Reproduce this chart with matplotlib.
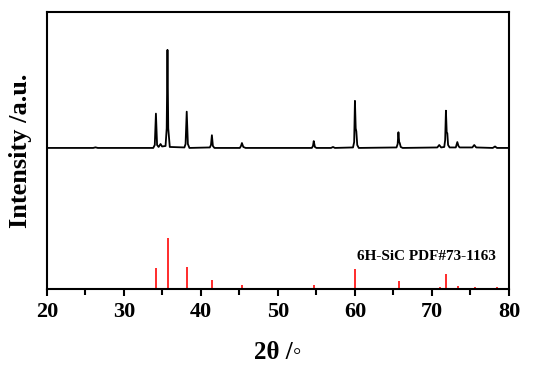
import matplotlib
matplotlib.use('Agg')
import matplotlib.pyplot as plt

plt.rcParams['font.family'] = ['Liberation Serif', 'DejaVu Serif']
plt.rcParams['font.weight'] = 'bold'

# measured XRD pattern (2theta in degrees, relative intensity)
two_theta = [20.0, 26.0, 26.3, 26.6, 33.8, 34.0, 34.15, 34.3, 34.5, 34.75, 34.95,
             35.4, 35.55, 35.65, 35.75, 35.95, 37.85, 38.0, 38.15, 38.3, 38.5,
             41.15, 41.3, 41.42, 41.55, 41.75, 45.05, 45.2, 45.32, 45.5, 45.8,
             54.4, 54.55, 54.65, 54.8, 55.0, 56.9, 57.15, 57.4,
             59.75, 59.9, 60.0, 60.1, 60.18, 60.3, 60.5,
             65.4, 65.55, 65.65, 65.75, 65.82, 65.95, 66.2,
             70.7, 70.95, 71.2, 71.6, 71.72, 71.82, 71.92, 72.0, 72.1, 72.3,
             73.1, 73.3, 73.45, 73.6, 75.25, 75.5, 75.75, 77.9, 78.2, 78.45, 79.8]
intensity = [0, 0, 0.6, 0, 0, 3, 35, 3, 1, 4, 1.5,
             2, 20, 100, 20, 1, 0.5, 4, 37, 4, 0,
             0.5, 3, 13, 2, 0, 0, 2, 5, 1, 0,
             0, 2, 7, 1, 0, 0, 1, 0,
             0.5, 6, 48, 20, 17, 3, 0,
             0.5, 4, 16, 6, 5, 1, 0,
             0.5, 3, 0.5, 1, 8, 38, 16, 15, 3, 0.5,
             0.5, 6, 2, 0.5, 0.5, 3, 0.5, 0, 1.5, 0, 0]

# 6H-SiC reference lines, PDF#73-1163
ref_pos = [23.6, 34.1, 35.7, 38.15, 41.4, 45.3, 48.2, 54.65, 60.05,
           65.7, 71.1, 71.85, 73.45, 75.6, 78.4]
ref_int = [1, 41, 100, 44, 18, 8, 2, 8, 39, 16, 4.5, 29, 6.5, 4.5, 3]

fig = plt.figure(figsize=(5.34, 3.71), dpi=100)
ax = fig.add_axes([0.088, 0.221, 0.865, 0.747])

offset = 141
ax.plot(two_theta, [offset + 0.98 * v for v in intensity], color='black', lw=1.3)
ax.vlines(ref_pos, 0, [0.51 * v for v in ref_int], color='#ff1a1a', lw=1.3)

ax.text(0.972, 0.117, '6H-SiC PDF#73-1163', transform=ax.transAxes,
        ha='right', va='center', fontsize=11, fontweight='bold')

ax.set_xlim(20, 80)
ax.set_ylim(0, 277)
ax.set_xticks(range(20, 81, 10))
ax.set_xticks(range(25, 80, 10), minor=True)
ax.tick_params(axis='x', which='major', direction='out', length=5, width=1.5,
               labelsize=16, pad=4)
ax.tick_params(axis='x', which='minor', direction='out', length=4, width=1.5)
ax.tick_params(axis='y', left=False, labelleft=False)
for s in ax.spines.values():
    s.set_linewidth(1.5)

ax.set_xlabel('2θ /◦', fontsize=18, fontweight='bold', labelpad=14)
ax.set_ylabel('Intensity /a.u.', fontsize=19, fontweight='bold', labelpad=11)

plt.savefig('out.png', dpi=100)
